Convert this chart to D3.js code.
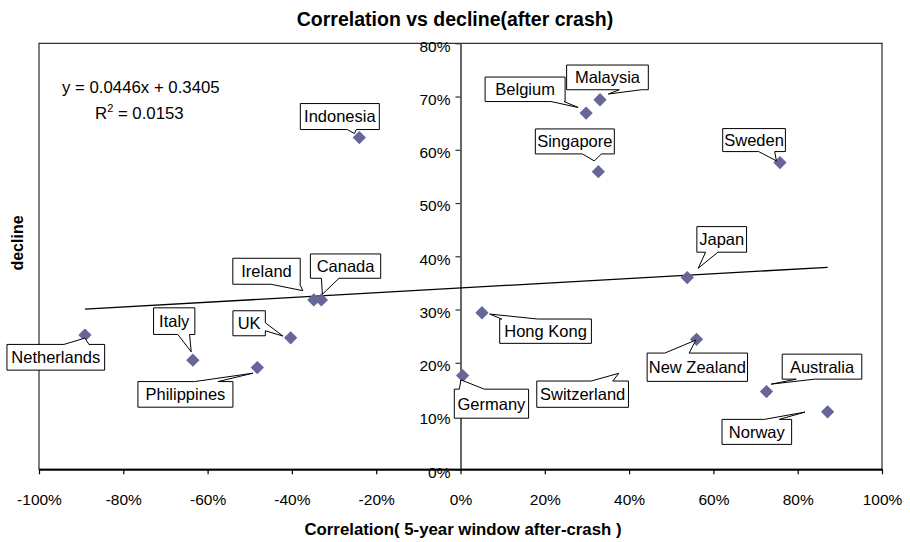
<!DOCTYPE html>
<html>
<head>
<meta charset="utf-8">
<script src="https://cdn.jsdelivr.net/npm/d3@7"></script>
<style>
  html, body { margin: 0; padding: 0; background: #fff; }
  svg { display: block; font-family: "Liberation Sans", Arial, sans-serif; }
</style>
</head>
<body>
<svg id="chart" width="910" height="542"></svg>
<script>
// ---- data ----
const countries   = ["Netherlands","Italy","Philippines","UK","Ireland","Canada","Indonesia","Germany","Hong Kong","Belgium","Singapore","Malaysia","Switzerland","Japan","New Zealand","Australia","Sweden","Norway"];
const correlation = [-0.891,-0.635,-0.482,-0.403,-0.348,-0.330,-0.240,0.005,0.051,0.298,0.327,0.331,0.380,0.538,0.560,0.726,0.758,0.871];
const decline     = [0.252,0.205,0.191,0.247,0.318,0.318,0.623,0.176,0.294,0.669,0.559,0.694,0.190,0.360,0.244,0.146,0.576,0.108];
const markerShown = [1,1,1,1,1,1,1,1,1,1,1,1,0,1,1,1,1,1];
const xTicks = [-1,-0.8,-0.6,-0.4,-0.2,0,0.2,0.4,0.6,0.8,1];
const yTicks = [0,0.1,0.2,0.3,0.4,0.5,0.6,0.7,0.8];
const trendSlope = 0.0446, trendIntercept = 0.3405, rSquared = "0.0153";
const titleText = "Correlation vs decline(after crash)";
const xTitle = "Correlation( 5-year window after-crash )";
const yTitle = "decline";

// ---- label callout layout (box offset from point, size, wedge edge, wedge base, tip offset) ----
const labelLayout = {
  "Indonesia":   [-59, -34, 79, 26, "b", 47, 56, -5, -4],
  "Belgium":     [-101, -36, 80, 24.5, "b", 66, 79, -8, -5.6],
  "Malaysia":    [-33.4, -34.7, 81.7, 24.7, "b", 52.7, 74.7, 8.3, -5.7],
  "Singapore":   [-63, -42.7, 79, 25, "b", 47, 66, -4, -10.7],
  "Sweden":      [-57.3, -34, 62.7, 23, "b", 36, 52, -3.6, -1.7],
  "Japan":       [9.6, -51, 49.7, 25.6, "b", 8.7, 21, 11, -9.4],
  "Netherlands": [-78, 9.3, 97.7, 25.7, "t", 57, 82, 0, 3],
  "Italy":       [-39.3, -52.3, 41.3, 26.6, "b", 24.3, 36, -1.6, -8.3],
  "UK":          [-57.7, -27, 32.4, 25, "r", 12, 20, -7.7, -1.7],
  "Philippines": [-119.4, 14, 95, 25.6, "t", 56.7, 80, -4.4, 5.6],
  "Ireland":     [-81, -41.7, 67.4, 26, "b", 38, 67, -11, -9.3],
  "Canada":      [-11, -46, 70.3, 24.3, "b", 11, 28.6, 1, -5.7],
  "Hong Kong":   [17.7, 6.3, 91.7, 24.3, "t", 2, 38, 7.7, 1.3],
  "Germany":     [-8.3, 13.6, 74.3, 29, "t", 5, 30, -1.6, 4.3],
  "Switzerland": [-83.9, 12.9, 91.7, 26.3, "t", 54.4, 76, -1.9, 5.2],
  "New Zealand": [-49.4, 13.7, 100.4, 28.3, "t", 17.7, 42, -0.7, 0.7],
  "Australia":   [15.7, -37.4, 79.6, 25, "b", 14, 32.3, 4.7, -7.4],
  "Norway":      [-105.6, 7.6, 69.6, 25, "t", 42.3, 57.3, -22.6, 0.3]
};

const data = countries.map((c, i) => ({ name: c, x: correlation[i], y: decline[i], shown: markerShown[i] }));
const pct = v => `${Math.round(v * 100)}%`;

const svg = d3.select("#chart");
const L = 39, R = 882, T = 43.3, B = 469.3;
const x = d3.scaleLinear().domain([-1, 1]).range([L, R]);
const y = d3.scaleLinear().domain([0, 0.8]).range([B, T]);

// plot border
svg.append("rect").attr("x", L).attr("y", T).attr("width", R - L).attr("height", B - T)
  .attr("fill", "none").attr("stroke", "#000").attr("stroke-width", 1);

// y axis at x = 0
const yAxis = svg.append("g").attr("transform", `translate(${x(0)},0)`)
  .call(d3.axisLeft(y).tickValues(yTicks).tickFormat(pct).tickSize(5).tickSizeOuter(0).tickPadding(5));
yAxis.select(".domain").attr("stroke", "#333").attr("stroke-width", 1.5);
yAxis.selectAll(".tick line").attr("stroke", "#333").attr("stroke-width", 1.2);
yAxis.selectAll("text").attr("font-size", 15.5).attr("fill", "#000").attr("font-family", "Liberation Sans, Arial, sans-serif").attr("dy", "0.5em");

// x axis at bottom
const xAxis = svg.append("g").attr("transform", `translate(0,${B})`)
  .call(d3.axisBottom(x).tickValues(xTicks).tickFormat(pct).tickSize(5).tickSizeOuter(0).tickPadding(20));
xAxis.select(".domain").attr("stroke", "#000").attr("stroke-width", 2);
xAxis.selectAll(".tick line").attr("stroke", "#000").attr("stroke-width", 1.2);
xAxis.selectAll("text").attr("font-size", 15.5).attr("fill", "#000").attr("font-family", "Liberation Sans, Arial, sans-serif");

// trend line
const xMin = d3.min(data.filter(d => d.shown), d => d.x), xMax = d3.max(data.filter(d => d.shown), d => d.x);
svg.append("line")
  .attr("x1", x(xMin)).attr("y1", y(trendSlope * xMin + trendIntercept))
  .attr("x2", x(xMax)).attr("y2", y(trendSlope * xMax + trendIntercept))
  .attr("stroke", "#000").attr("stroke-width", 1.3);

// markers (diamonds)
const diamond = d3.symbol().type(d3.symbolSquare).size(88);
svg.append("g").selectAll("path").data(data.filter(d => d.shown)).join("path")
  .attr("d", diamond)
  .attr("transform", d => `translate(${x(d.x)},${y(d.y)}) rotate(45)`)
  .attr("fill", "#666699");

// callout labels
function calloutPath(px, py, lay) {
  const [bx, by, w, h, edge, a0, a1, tx, ty] = lay;
  const x0 = px + bx, y0 = py + by, x1 = x0 + w, y1 = y0 + h;
  const TX = px + tx, TY = py + ty;
  let p = `M${x0},${y0}`;
  if (edge === "t") p += `L${x0 + a0},${y0}L${TX},${TY}L${x0 + a1},${y0}`;
  p += `L${x1},${y0}`;
  if (edge === "r") p += `L${x1},${y0 + a0}L${TX},${TY}L${x1},${y0 + a1}`;
  p += `L${x1},${y1}`;
  if (edge === "b") p += `L${x0 + a1},${y1}L${TX},${TY}L${x0 + a0},${y1}`;
  p += `L${x0},${y1}`;
  if (edge === "l") p += `L${x0},${y0 + a1}L${TX},${TY}L${x0},${y0 + a0}`;
  return p + "Z";
}
const labels = svg.append("g");
data.forEach(d => {
  const lay = labelLayout[d.name];
  const px = x(d.x), py = y(d.y);
  labels.append("path").attr("d", calloutPath(px, py, lay))
    .attr("fill", "#fff").attr("stroke", "#000").attr("stroke-width", 1);
  labels.append("text")
    .attr("x", px + lay[0] + lay[2] / 2).attr("y", py + lay[1] + lay[3] / 2)
    .attr("dy", "0.36em").attr("text-anchor", "middle")
    .attr("font-size", 16.5).attr("fill", "#000").text(d.name);
});

// trend equation
svg.append("text").attr("x", 62).attr("y", 93).attr("font-size", 16.8).attr("fill", "#000")
  .text(`y = ${trendSlope}x + ${trendIntercept}`);
const rt = svg.append("text").attr("x", 95).attr("y", 119).attr("font-size", 16.8).attr("fill", "#000");
rt.append("tspan").text("R");
rt.append("tspan").attr("dy", -7).attr("font-size", 11).text("2");
rt.append("tspan").attr("dy", 7).text(` = ${rSquared}`);

// titles
svg.append("text").attr("x", 455).attr("y", 26).attr("text-anchor", "middle")
  .attr("font-size", 19.5).attr("font-weight", "bold").text(titleText);
svg.append("text").attr("x", 463).attr("y", 535).attr("text-anchor", "middle")
  .attr("font-size", 16.8).attr("font-weight", "bold").text(xTitle);
svg.append("text").attr("transform", "translate(23,243) rotate(-90)").attr("text-anchor", "middle")
  .attr("font-size", 16).attr("font-weight", "bold").text(yTitle);
</script>
</body>
</html>
